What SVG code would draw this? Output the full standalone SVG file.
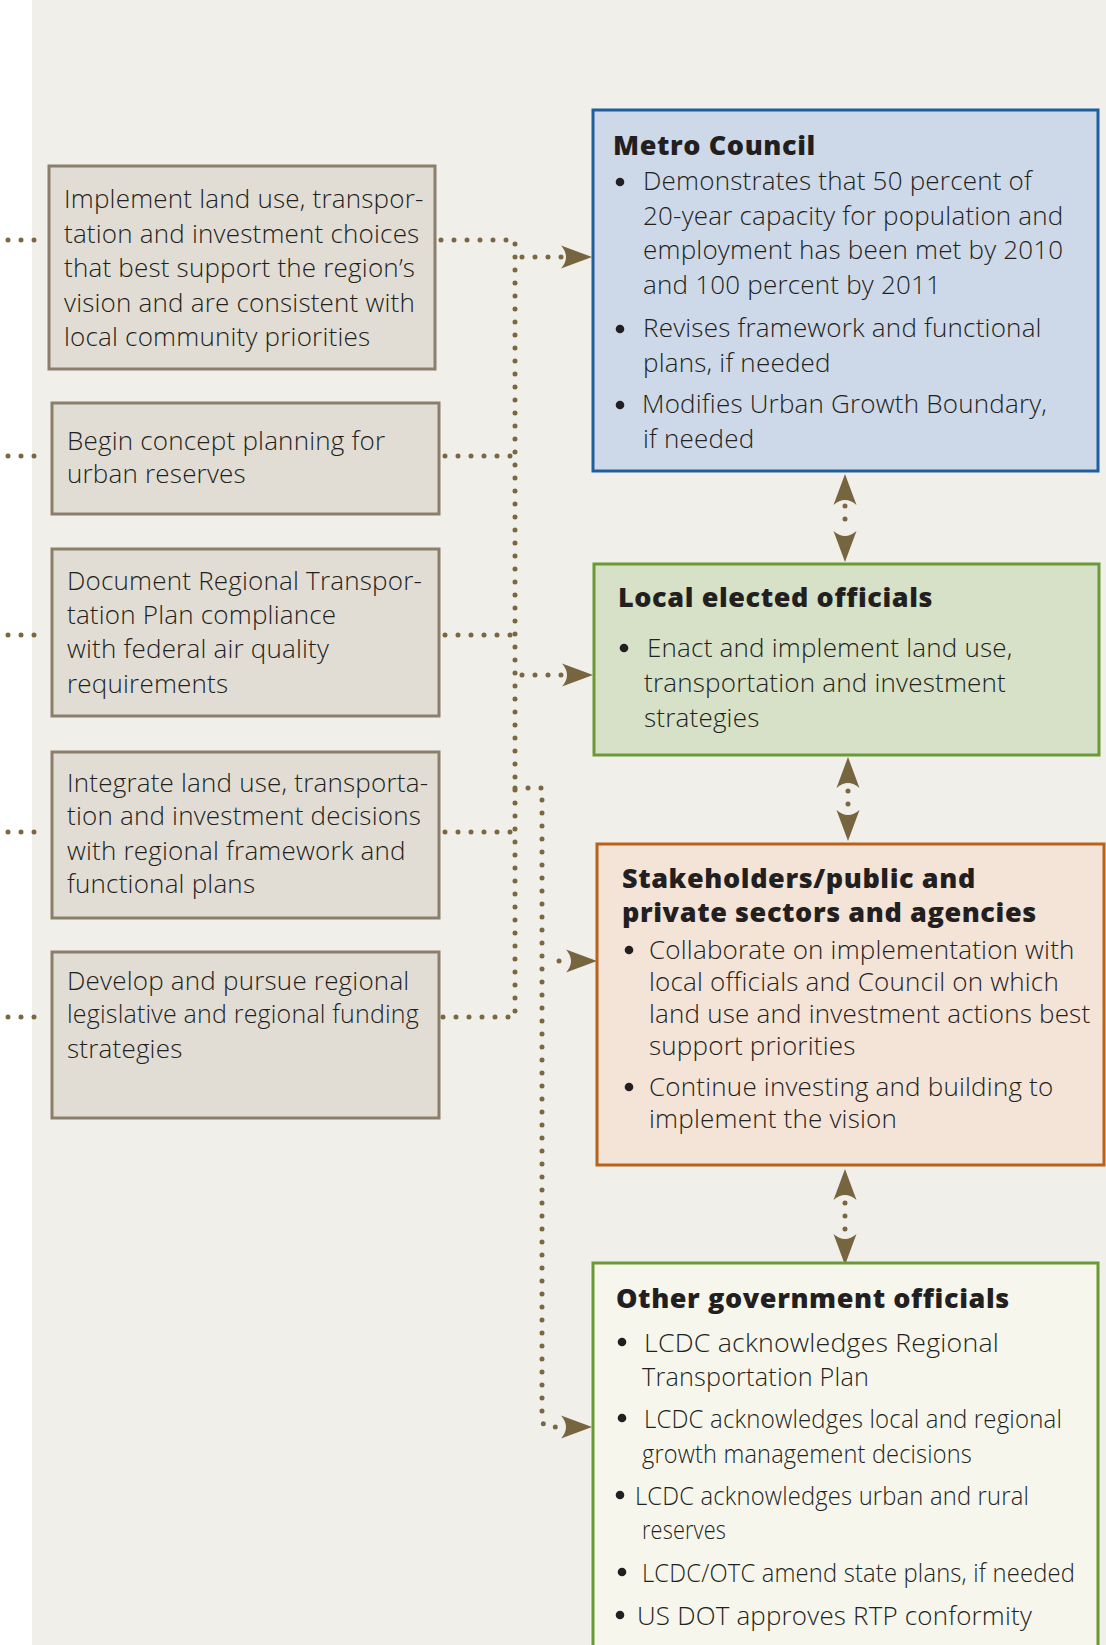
<svg xmlns="http://www.w3.org/2000/svg" xmlns:xlink="http://www.w3.org/1999/xlink" width="1106" height="1645" viewBox="0 0 1106 1645">
<style>
.t{font-family:"Open Sans","Noto Sans","Liberation Sans",sans-serif;font-size:26px;font-weight:300;letter-spacing:0.2px;fill:#231f20}
.h{font-family:"Open Sans","Noto Sans","Liberation Sans",sans-serif;font-size:27px;font-weight:800;letter-spacing:0.6px;fill:#231f20}
.lbox{fill:#e1ddd5;stroke:#8b7f6b;stroke-width:3}
.dot{fill:none;stroke:#7b6843;stroke-width:5;stroke-linecap:round;stroke-dasharray:0 13}
.ah{fill:#76653f}
.bul{fill:#231f20}
</style>
<defs>
<path id="ah" d="M0,0 L-31,-11.5 Q-21,0 -31,11.5 Z"/>
</defs>
<rect x="0" y="0" width="1106" height="1645" fill="#ffffff"/>
<rect x="32" y="0" width="1074" height="1645" fill="#f0efea"/>

<g id="connectors">
  <path class="dot" d="M8,240 H44"/>
  <path class="dot" d="M8,456 H46"/>
  <path class="dot" d="M8,635 H46"/>
  <path class="dot" d="M8,832 H46"/>
  <path class="dot" d="M8,1017 H46"/>
  <path class="dot" d="M441,240 H515 V1017 H441"/>
  <path class="dot" d="M445,456 H515"/>
  <path class="dot" d="M445,635 H515"/>
  <path class="dot" d="M445,832 H515"/>
  <path class="dot" d="M522,257 H562"/>
  <path class="dot" d="M522,675 H562"/>
  <path class="dot" d="M515,788 H542 V1418 Q542,1427 550,1427 H562"/>
  <path class="dot" d="M559,961 H561"/>
  <use href="#ah" class="ah" transform="translate(592,257)"/>
  <use href="#ah" class="ah" transform="translate(593,675)"/>
  <use href="#ah" class="ah" transform="translate(597,961)"/>
  <use href="#ah" class="ah" transform="translate(592,1427)"/>
  <path class="dot" d="M845,506 V532"/>
  <use href="#ah" class="ah" transform="translate(845,474) rotate(-90)"/>
  <use href="#ah" class="ah" transform="translate(845,562) rotate(90)"/>
  <path class="dot" d="M848,791 V806"/>
  <use href="#ah" class="ah" transform="translate(848,757) rotate(-90)"/>
  <use href="#ah" class="ah" transform="translate(848,841) rotate(90)"/>
  <path class="dot" d="M845,1203 V1233"/>
  <use href="#ah" class="ah" transform="translate(845,1169) rotate(-90)"/>
  <use href="#ah" class="ah" transform="translate(845,1265) rotate(90)"/>
</g>

<g id="task1">
  <rect class="lbox" x="49" y="166" width="386" height="203"/>
  <text class="t" x="64" y="208">Implement land use, transpor-</text>
  <text class="t" x="64" y="242.5">tation and investment choices</text>
  <text class="t" x="64" y="277">that best support the region’s</text>
  <text class="t" x="64" y="311.5">vision and are consistent with</text>
  <text class="t" x="64" y="346">local community priorities</text>
</g>
<g id="task2">
  <rect class="lbox" x="52" y="403" width="387" height="111"/>
  <text class="t" x="67" y="450">Begin concept planning for</text>
  <text class="t" x="67" y="483">urban reserves</text>
</g>
<g id="task3">
  <rect class="lbox" x="52" y="549" width="387" height="167"/>
  <text class="t" x="67" y="590">Document Regional Transpor-</text>
  <text class="t" x="67" y="624">tation Plan compliance</text>
  <text class="t" x="67" y="658">with federal air quality</text>
  <text class="t" x="67" y="693">requirements</text>
</g>
<g id="task4">
  <rect class="lbox" x="52" y="752" width="387" height="166"/>
  <text class="t" x="67" y="792">Integrate land use, transporta-</text>
  <text class="t" x="67" y="825">tion and investment decisions</text>
  <text class="t" x="67" y="860">with regional framework and</text>
  <text class="t" x="67" y="893">functional plans</text>
</g>
<g id="task5">
  <rect class="lbox" x="52" y="952" width="387" height="166"/>
  <text class="t" x="67" y="990">Develop and pursue regional</text>
  <text class="t" x="67" y="1023" textLength="352" lengthAdjust="spacingAndGlyphs">legislative and regional funding</text>
  <text class="t" x="67" y="1058">strategies</text>
</g>

<g id="metro-council">
  <rect x="593" y="110" width="505" height="361" fill="#cdd9e8" stroke="#1f5fa0" stroke-width="3"/>
  <text class="h" x="613" y="155">Metro Council</text>
  <circle class="bul" cx="620" cy="182" r="4.3"/>
  <text class="t" x="643" y="190">Demonstrates that 50 percent of</text>
  <text class="t" x="643" y="225">20-year capacity for population and</text>
  <text class="t" x="643" y="259">employment has been met by 2010</text>
  <text class="t" x="643" y="294">and 100 percent by 2011</text>
  <circle class="bul" cx="620" cy="329" r="4.3"/>
  <text class="t" x="643" y="337">Revises framework and functional</text>
  <text class="t" x="643" y="372">plans, if needed</text>
  <circle class="bul" cx="620" cy="405" r="4.3"/>
  <text class="t" x="642" y="413">Modifies Urban Growth Boundary,</text>
  <text class="t" x="643" y="448">if needed</text>
</g>

<g id="local-elected">
  <rect x="594" y="564" width="505" height="191" fill="#d6e1c8" stroke="#6a9a35" stroke-width="3"/>
  <text class="h" x="618" y="607">Local elected officials</text>
  <circle class="bul" cx="624" cy="648" r="4.3"/>
  <text class="t" x="647" y="657">Enact and implement land use,</text>
  <text class="t" x="644" y="692">transportation and investment</text>
  <text class="t" x="644" y="727">strategies</text>
</g>

<g id="stakeholders">
  <rect x="597" y="844" width="507" height="321" fill="#f4e3d7" stroke="#b8621a" stroke-width="3"/>
  <text class="h" x="622" y="888">Stakeholders/public and</text>
  <text class="h" x="622" y="922">private sectors and agencies</text>
  <circle class="bul" cx="629" cy="950" r="4.3"/>
  <text class="t" x="649" y="959">Collaborate on implementation with</text>
  <text class="t" x="649" y="991">local officials and Council on which</text>
  <text class="t" x="649" y="1023">land use and investment actions best</text>
  <text class="t" x="649" y="1055">support priorities</text>
  <circle class="bul" cx="629" cy="1087" r="4.3"/>
  <text class="t" x="649" y="1096">Continue investing and building to</text>
  <text class="t" x="649" y="1128">implement the vision</text>
</g>

<g id="other-government">
  <rect x="593" y="1263" width="505" height="400" fill="#f6f6ec" stroke="#6a9a35" stroke-width="3"/>
  <text class="h" x="616" y="1308">Other government officials</text>
  <circle class="bul" cx="622" cy="1342" r="4.3"/>
  <text class="t" x="644" y="1352" textLength="355" lengthAdjust="spacingAndGlyphs">LCDC acknowledges Regional</text>
  <text class="t" x="642" y="1386" textLength="227" lengthAdjust="spacingAndGlyphs">Transportation Plan</text>
  <circle class="bul" cx="622" cy="1418" r="4.3"/>
  <text class="t" x="644" y="1428" textLength="418" lengthAdjust="spacingAndGlyphs">LCDC acknowledges local and regional</text>
  <text class="t" x="642" y="1463" textLength="330" lengthAdjust="spacingAndGlyphs">growth management decisions</text>
  <circle class="bul" cx="620" cy="1495" r="4.3"/>
  <text class="t" x="635" y="1505" textLength="394" lengthAdjust="spacingAndGlyphs">LCDC acknowledges urban and rural</text>
  <text class="t" x="642" y="1539" textLength="84" lengthAdjust="spacingAndGlyphs">reserves</text>
  <circle class="bul" cx="622" cy="1572" r="4.3"/>
  <text class="t" x="642" y="1582" textLength="433" lengthAdjust="spacingAndGlyphs">LCDC/OTC amend state plans, if needed</text>
  <circle class="bul" cx="620" cy="1615" r="4.3"/>
  <text class="t" x="637" y="1625" textLength="395" lengthAdjust="spacingAndGlyphs">US DOT approves RTP conformity</text>
</g>
</svg>
